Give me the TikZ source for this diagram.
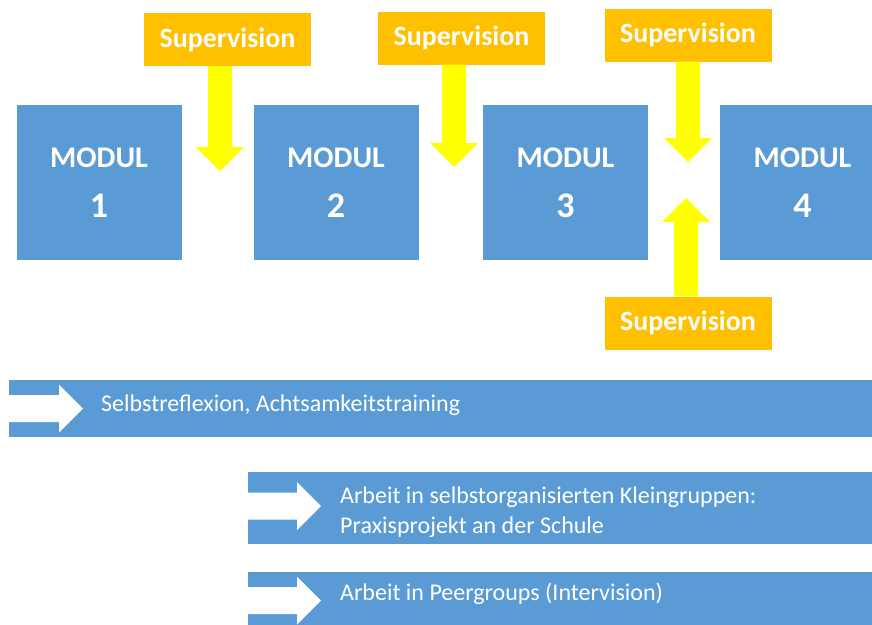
\documentclass[tikz,border=0pt]{standalone}
\usepackage{fontspec}
\setmainfont{Carlito}
\usetikzlibrary{calc}

\definecolor{modblue}{HTML}{5B9BD5}
\definecolor{supgold}{HTML}{FFC000}
\definecolor{flowyellow}{HTML}{FFFF00}

\tikzset{
  modul/.style={fill=modblue, minimum width=165pt, minimum height=155pt,
    inner sep=0pt, text=white, align=center,
    font=\fontsize{30}{50}\selectfont\bfseries},
  supbox/.style={fill=supgold, minimum width=167pt, minimum height=53pt,
    inner sep=0pt, text=white, font=\fontsize{28}{32}\selectfont\bfseries},
  band/.style={fill=modblue, anchor=north west, inner sep=0pt,
    minimum width=880pt},
  bandtext/.style={text=white, inner sep=0pt, align=left,
    font=\fontsize{24}{30}\selectfont},
}

% module number, set larger than the word above it
\newcommand{\modnum}[1]{{\fontsize{36}{50}\selectfont #1}}

% vertical yellow block arrow: shaft starts at #1, tip lies at #2
\newcommand{\supflow}[2]{%
  \fill[flowyellow] let \p1=(#1), \p2=(#2), \n1={sign(\y1-\y2)} in
    (\x2-12pt,\y1) -- (\x2-12pt,\y2+\n1*24pt) -- (\x2-24pt,\y2+\n1*24pt)
    -- (\x2,\y2) -- (\x2+24pt,\y2+\n1*24pt) -- (\x2+12pt,\y2+\n1*24pt)
    -- (\x2+12pt,\y1) -- cycle;}

% white block arrow inside a band: shaft starts at #1, tip lies at #2
\newcommand{\bandflow}[2]{%
  \fill[white] let \p1=(#1), \p2=(#2) in
    (\x1,\y2-13.5pt) -- (\x2-24pt,\y2-13.5pt) -- (\x2-24pt,\y2-24pt)
    -- (\x2,\y2) -- (\x2-24pt,\y2+24pt) -- (\x2-24pt,\y2+13.5pt)
    -- (\x1,\y2+13.5pt) -- cycle;}

\begin{document}
\begin{tikzpicture}[x=1pt, y=-1pt]
  \useasboundingbox (0,0) rectangle (872,624);
  \clip (0,0) rectangle (872,624);

  % modules
  \node[modul] (m1) at (99,182.5)    {MODUL\\\modnum{1}};
  \node[modul] (m2) at (336,182.5)   {MODUL\\\modnum{2}};
  \node[modul] (m3) at (565.5,182.5) {MODUL\\\modnum{3}};
  \node[modul] (m4) at (802.5,182.5) {MODUL\\\modnum{4}};

  % supervision boxes
  \node[supbox] (s1) at (227.5,39.5) {Supervision};
  \node[supbox] (s2) at (461.5,38)   {Supervision};
  \node[supbox] (s3) at (688,35)     {Supervision};
  \node[supbox] (s4) at (688,323)    {Supervision};

  % arrow tips between the modules
  \coordinate (t1) at (220,171);
  \coordinate (t2) at (454,167);
  \coordinate (t3) at (688,162);
  \coordinate (t4) at (686,198);

  \supflow{s1.south -| t1}{t1}
  \supflow{s2.south -| t2}{t2}
  \supflow{s3.south -| t3}{t3}
  \supflow{s4.north -| t4}{t4}

  % accompanying strands
  \node[band, minimum height=57pt] (b1) at (9,380)  {};
  \node[band, minimum height=72pt] (b2) at (248,472) {};
  \node[band, minimum height=57pt] (b3) at (248,572) {};

  \coordinate (f1) at ($(b1.west)+(74,0)$);
  \coordinate (f2) at ($(b2.west)+(73,-2)$);
  \coordinate (f3) at ($(b3.west)+(73,0)$);
  \bandflow{b1.west}{f1}
  \bandflow{b2.west}{f2}
  \bandflow{b3.west}{f3}

  \node[bandtext, anchor=base west] (l1) at ($(b1.west)+(92,2.5)$)
    {Selbstreflexion, Achtsamkeitstraining};
  \node[bandtext, anchor=west] (l2) at ($(b2.west)+(92,4)$)
    {Arbeit in selbstorganisierten Kleingruppen:\\Praxisprojekt an der Schule};
  \node[bandtext, anchor=base west] (l3) at ($(b3.west)+(92,-0.5)$)
    {Arbeit in Peergroups (Intervision)};
\end{tikzpicture}
\end{document}
